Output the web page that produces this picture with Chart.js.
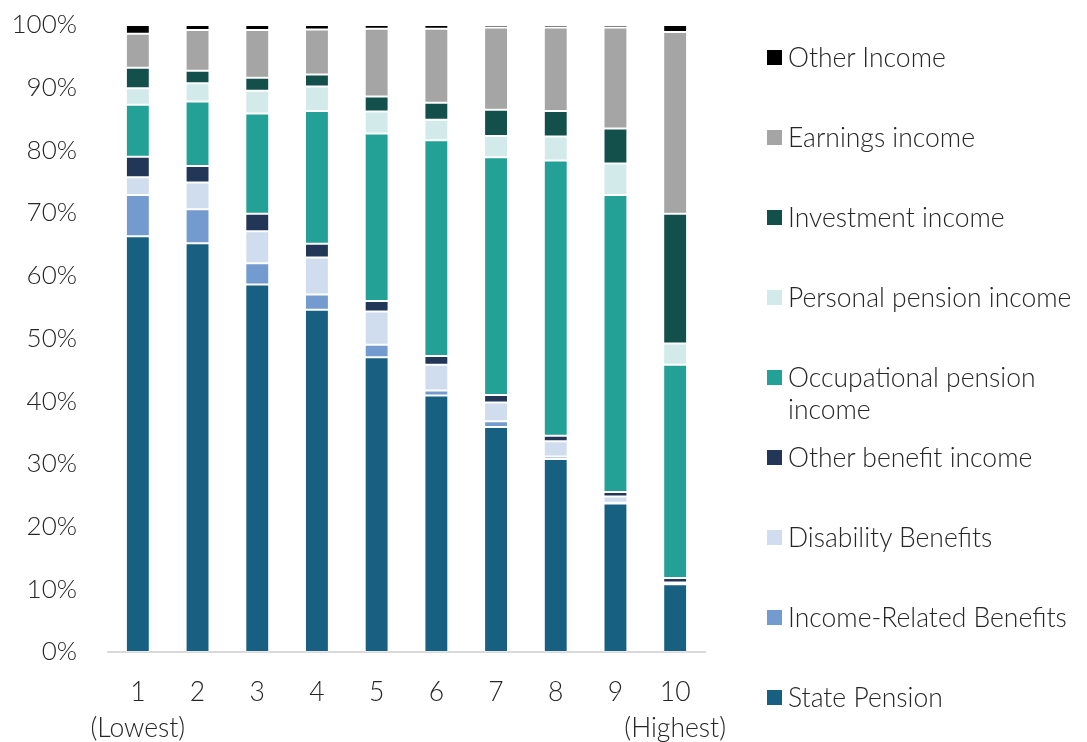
<!DOCTYPE html>
<html>
<head>
<meta charset="utf-8">
<script src="https://cdn.jsdelivr.net/npm/chart.js@4.4.1/dist/chart.umd.min.js"></script>
<style>
  html, body { margin: 0; padding: 0; background: #ffffff; }
  #wrap { position: relative; width: 1087px; height: 742px; overflow: hidden; }
  #chart { position: absolute; left: 0; top: 0; }
  #legend { position: absolute; left: 0; top: 0; width: 1087px; height: 742px; pointer-events: none;
            font-family: Lato, "Open Sans", sans-serif; font-weight: 300; color: #262626; }
  .item { position: absolute; left: 767px; width: 320px; font-size: 26.5px; line-height: 32px; }
  .box { position: absolute; left: 0; top: 9px; width: 15px; height: 15px; }
  .txt { position: absolute; left: 21px; width: 299px; }
</style>
</head>
<body>
<div id="wrap">
  <canvas id="chart" width="1087" height="742"></canvas>
  <div id="legend"></div>
</div>
<script>
// ---- Data (percent of income by decile) ----
const categories = [["1", "(Lowest)"], "2", "3", "4", "5", "6", "7", "8", "9", ["10", "(Highest)"]];
const yTickValues = [0, 10, 20, 30, 40, 50, 60, 70, 80, 90, 100];

const seriesNames = [
  "State Pension",
  "Income-Related Benefits",
  "Disability Benefits",
  "Other benefit income",
  "Occupational pension income",
  "Personal pension income",
  "Investment income",
  "Earnings income",
  "Other Income"
];

const statePension    = [66.3, 65.2, 58.6, 54.6, 47.0, 40.9, 35.9, 30.8, 23.7, 10.8];
const incomeRelated   = [6.6, 5.4, 3.4, 2.4, 2.0, 0.8, 0.9, 0.4, 0.1, 0.1];
const disability      = [2.8, 4.3, 5.1, 5.9, 5.3, 4.1, 3.0, 2.4, 1.0, 0.2];
const otherBenefit    = [3.3, 2.6, 2.8, 2.2, 1.7, 1.4, 1.2, 0.9, 0.7, 0.7];
const occupational    = [8.3, 10.3, 16.0, 21.2, 26.7, 34.4, 37.9, 43.9, 47.4, 34.0];
const personalPension = [2.6, 2.9, 3.6, 3.9, 3.5, 3.3, 3.4, 3.8, 5.0, 3.4];
const investment      = [3.3, 2.0, 2.1, 1.9, 2.4, 2.7, 4.2, 4.1, 5.6, 20.7];
const earnings        = [5.4, 6.5, 7.6, 7.2, 10.8, 11.8, 13.1, 13.3, 16.1, 29.0];
const otherIncome     = [1.4, 0.8, 0.8, 0.7, 0.6, 0.6, 0.4, 0.4, 0.4, 1.1];

const seriesValues = [statePension, incomeRelated, disability, otherBenefit, occupational,
                      personalPension, investment, earnings, otherIncome];
const seriesColors = ["#176081", "#739bcf", "#d0ddee", "#223657", "#24a196",
                      "#d2eaea", "#14504b", "#a5a5a5", "#000000"];

// ---- Chart ----
const FONT = "Lato, 'Open Sans', sans-serif";
const datasets = seriesNames.map((name, i) => ({
  label: name,
  data: seriesValues[i],
  backgroundColor: seriesColors[i],
  borderColor: "rgba(255,255,255,0.35)",
  borderWidth: 1,
  borderSkipped: false,
  barPercentage: 0.4,
  categoryPercentage: 1.0
}));

new Chart(document.getElementById("chart"), {
  type: "bar",
  data: { labels: categories, datasets },
  options: {
    responsive: false,
    animation: false,
    layout: { padding: { top: 25, right: 382, left: 0, bottom: 0 } },
    plugins: { legend: { display: false }, tooltip: { enabled: false } },
    scales: {
      x: {
        stacked: true,
        grid: { display: false, drawTicks: false },
        border: { display: true, color: "#d9d9d9", width: 2 },
        ticks: {
          color: "#262626",
          font: { family: FONT, size: 26.5, weight: 300, lineHeight: 1.38 },
          padding: 22,
          maxRotation: 0, minRotation: 0, autoSkip: false
        },
        afterFit: (s) => { s.height = 90; }
      },
      y: {
        stacked: true,
        min: 0, max: 100,
        afterBuildTicks: (s) => { s.ticks = yTickValues.map(v => ({ value: v })); },
        grid: { display: false, drawTicks: true, tickLength: 31 },
        border: { display: false },
        ticks: {
          color: "#262626",
          font: { family: FONT, size: 26, weight: 300 },
          padding: 0,
          callback: (v) => v + "%"
        },
        afterFit: (s) => { s.width = 108; }
      }
    }
  }
});

// ---- HTML legend (reversed order, as in the reference) ----
const legend = document.getElementById("legend");
const order = seriesNames.map((_, i) => i).reverse();
order.forEach((idx, k) => {
  const item = document.createElement("div");
  item.className = "item";
  item.style.top = (41 + k * 80) + "px";
  const box = document.createElement("div");
  box.className = "box";
  box.style.background = seriesColors[idx];
  const txt = document.createElement("div");
  txt.className = "txt";
  txt.textContent = seriesNames[idx];
  item.appendChild(box);
  item.appendChild(txt);
  legend.appendChild(item);
});
</script>
</body>
</html>
